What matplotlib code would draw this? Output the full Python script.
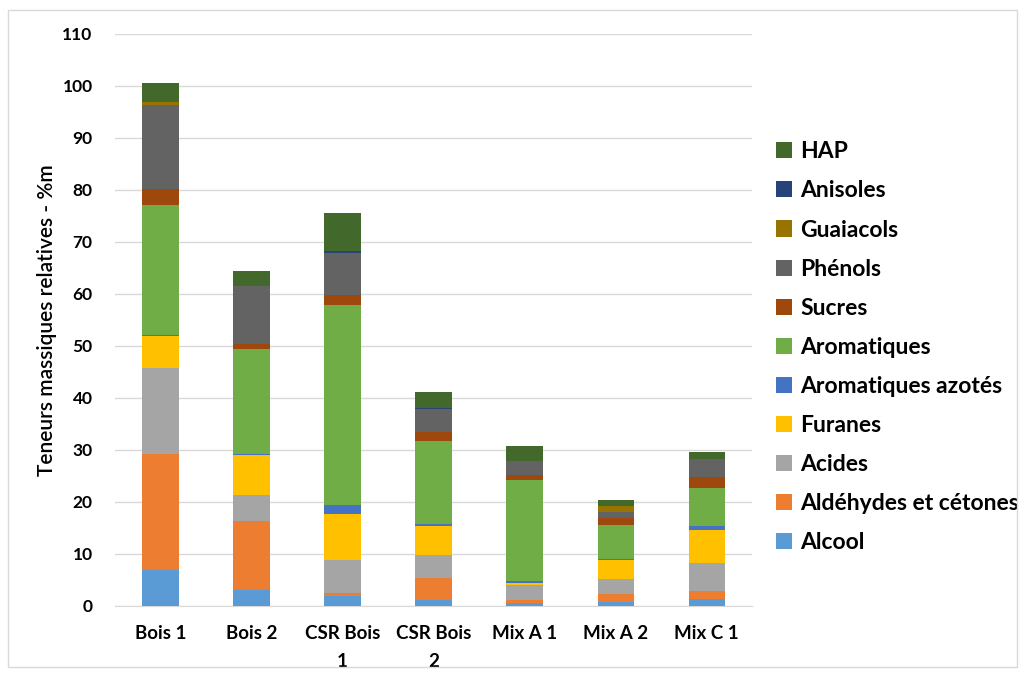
import numpy as np
import matplotlib.pyplot as plt
from matplotlib.patches import Rectangle

plt.rcParams['font.family'] = ['Lato', 'DejaVu Sans']

echantillons = ['Bois 1', 'Bois 2', 'CSR Bois\n1', 'CSR Bois\n2', 'Mix A 1', 'Mix A 2', 'Mix C 1']

familles = ['Alcool', 'Aldéhydes et cétones', 'Acides', 'Furanes', 'Aromatiques azotés',
            'Aromatiques', 'Sucres', 'Phénols', 'Guaiacols', 'Anisoles', 'HAP']
couleurs = ['#5B9BD5', '#ED7D31', '#A5A5A5', '#FFC000', '#4472C4',
            '#70AD47', '#9E480E', '#636363', '#997300', '#264478', '#43682B']

alcool = [7.0, 3.1, 2.0, 1.2, 0.5, 0.7, 1.3]
aldehydes = [22.3, 13.2, 0.4, 4.2, 0.6, 1.6, 1.5]
acides = [16.5, 5.1, 6.5, 4.3, 2.9, 2.9, 5.5]
furanes = [6.1, 7.7, 8.7, 5.6, 0.4, 3.6, 6.3]
azotes = [0.2, 0.2, 1.9, 0.5, 0.4, 0.2, 0.8]
aromatiques = [24.9, 20.1, 38.4, 16.0, 19.5, 6.6, 7.2]
sucres = [3.1, 0.9, 1.8, 1.7, 0.8, 1.4, 2.2]
phenols = [16.2, 11.2, 8.2, 4.4, 2.7, 1.1, 3.4]
guaiacols = [0.6, 0.0, 0.0, 0.0, 0.0, 1.2, 0.0]
anisoles = [0.0, 0.0, 0.3, 0.2, 0.0, 0.0, 0.0]
hap = [3.7, 2.9, 7.4, 3.1, 2.9, 1.0, 1.3]

series = [alcool, aldehydes, acides, furanes, azotes, aromatiques,
          sucres, phenols, guaiacols, anisoles, hap]

fig = plt.figure(figsize=(10.25, 6.77), dpi=100)
ax = fig.add_axes([0.112, 0.105, 0.622, 0.845])

x = np.arange(len(echantillons))
bas = np.zeros(len(echantillons))
barres = []
for nom, vals, c in zip(familles, series, couleurs):
    b = ax.bar(x, vals, 0.4, bottom=bas, color=c, label=nom, zorder=3)
    barres.append(b)
    bas += np.array(vals)

ax.set_ylim(0, 110)
ax.set_xlim(-0.5, len(echantillons) - 0.5)
ax.set_yticks(np.arange(0, 111, 10))
ax.yaxis.grid(True, color='#D9D9D9', linewidth=1, zorder=0)
ax.set_xticks(x)
ax.set_xticklabels(echantillons, fontsize=13.5, fontweight='bold', linespacing=1.75)
for t in ax.get_yticklabels():
    t.set_fontsize(12.5)
    t.set_fontweight('bold')
ax.tick_params(axis='both', length=0)
ax.tick_params(axis='y', pad=16)
ax.tick_params(axis='x', pad=14)
for s in ['top', 'right', 'left']:
    ax.spines[s].set_visible(False)
ax.spines['bottom'].set_color('#D9D9D9')

ax.set_ylabel('Teneurs massiques relatives - %m', fontsize=15, fontweight='semibold', labelpad=4)

leg = ax.legend(barres[::-1], familles[::-1], loc='center left',
                bbox_to_anchor=(1.005, 0.452), frameon=False,
                prop={'size': 16.5, 'weight': 'bold'},
                handlelength=0.7, handleheight=0.7, labelspacing=0.79,
                handletextpad=0.35)

fig.patches.append(Rectangle((0.008, 0.015), 0.984, 0.97, transform=fig.transFigure,
                             fill=False, edgecolor='#D9D9D9', linewidth=1))

fig.savefig('out.png', dpi=100)
